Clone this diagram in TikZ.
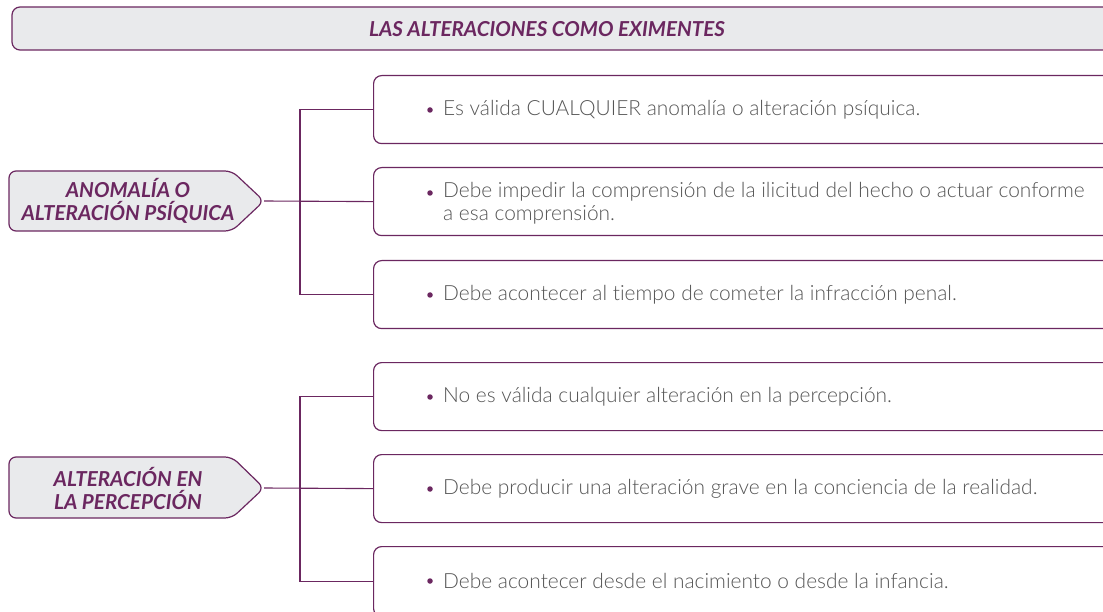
\documentclass[tikz,border=0pt]{standalone}
\usepackage{fontspec}
\setmainfont{Lato}[Ligatures=NoCommon]
\newfontfamily\lightfont{Lato Light}[Ligatures=NoCommon]
\definecolor{plum}{HTML}{6B2760}
\definecolor{boxfill}{HTML}{E9EAEC}
\definecolor{bodytext}{HTML}{555555}
\tikzset{
  frame/.style={draw=plum, line width=1.2pt},
  itembox/.style={frame, fill=white, rounded corners=8pt, anchor=north west, minimum width=760pt, minimum height=68pt, inner sep=0pt},
  itemtext/.style={anchor=west, text=bodytext, font=\lightfont\fontsize{20.9}{23}\selectfont, align=left, inner sep=0pt},
  bulletdot/.style={circle, fill=plum, minimum size=5.5pt, inner sep=0pt},
  headtext/.style={text=plum, font=\fontsize{20.6}{23}\selectfont\bfseries\itshape, align=center, inner sep=0pt},
  conn/.style={draw=plum, line width=1.1pt}
}
\begin{document}
\begin{tikzpicture}[x=1pt,y=-1pt]
\useasboundingbox (0,0) rectangle (1103,612);
\clip (0,0) rectangle (1103,612);
% title
\draw[frame, fill=boxfill, rounded corners=8pt] (1120,7) -- (12,7) -- (12,50) -- (1120,50);
\node[headtext] (title) at (547,29) {LAS ALTERACIONES COMO EXIMENTES};
% group 1
\draw[frame, fill=boxfill, rounded corners=7pt] (9,171) -- (232,171) -- (264,201) -- (232,231) -- (9,231) -- cycle;
\coordinate (tipA) at (264,201);
\node[headtext] (headA) at (128,201) {ANOMALÍA O\\ALTERACIÓN PSÍQUICA};
\node[itembox] (a1) at (373,75) {};
\node[itembox] (a2) at (373,167) {};
\node[itembox] (a3) at (373,260) {};
\coordinate (jA) at (300,201);
\draw[conn] (tipA) -- (a2.west);
\draw[conn] (a1.west) -| (jA) |- (a3.west);
\node[bulletdot] (da1) at (430,110) {};
\node[itemtext] (ta1) at (443,110) {Es válida CUALQUIER anomalía o alteración psíquica.};
\node[bulletdot] (da2) at (430,193) {};
\node[itemtext, anchor=north west] (ta2) at (443,182) {Debe impedir la comprensión de la ilicitud del hecho o actuar conforme\\a esa comprensión.};
\node[bulletdot] (da3) at (430,295) {};
\node[itemtext] (ta3) at (443,295) {Debe acontecer al tiempo de cometer la infracción penal.};
% group 2
\draw[frame, fill=boxfill, rounded corners=7pt] (9,457) -- (232,457) -- (264,488) -- (232,518) -- (9,518) -- cycle;
\coordinate (tipB) at (264,488);
\node[headtext] (headB) at (128,488) {ALTERACIÓN EN\\LA PERCEPCIÓN};
\node[itembox] (b1) at (373,362) {};
\node[itembox] (b2) at (373,454) {};
\node[itembox, minimum height=70pt] (b3) at (373,546) {};
\coordinate (jB) at (300,488);
\draw[conn] (tipB) -- (b2.west);
\draw[conn] (b1.west) -| (jB) |- (b3.west);
\node[bulletdot] (db1) at (430,397) {};
\node[itemtext] (tb1) at (443,397) {No es válida cualquier alteración en la percepción.};
\node[bulletdot] (db2) at (430,489) {};
\node[itemtext] (tb2) at (443,489) {Debe producir una alteración grave en la conciencia de la realidad.};
\node[bulletdot] (db3) at (430,581) {};
\node[itemtext] (tb3) at (443,581) {Debe acontecer desde el nacimiento o desde la infancia.};
\end{tikzpicture}
\end{document}
